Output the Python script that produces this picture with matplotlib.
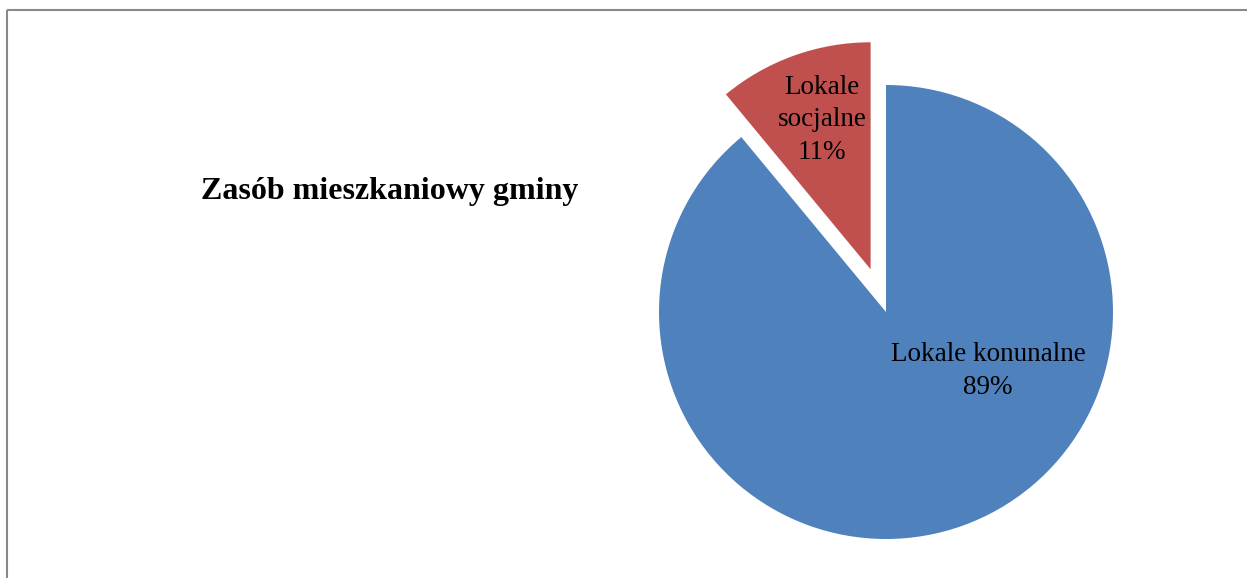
import matplotlib
matplotlib.use("Agg")
import matplotlib.pyplot as plt
from matplotlib.lines import Line2D

title = "Zasób mieszkaniowy gminy"
categories = ["Lokale konunalne", "Lokale socjalne"]
values = [89, 11]
colors = ["#4F81BD", "#C0504D"]
explode = [0.0, 0.2]  # fraction of radius

W, H = 1247, 578
fig = plt.figure(figsize=(W / 100, H / 100), dpi=100)
ax = fig.add_axes([0, 0, 1, 1])

cx, cy, r = 886, H - 312, 227
ax.pie(values, colors=colors, explode=[e * r for e in explode], startangle=90,
       counterclock=False, center=(cx, cy), radius=r,
       wedgeprops=dict(linewidth=0), frame=True)
ax.set_xlim(0, W)
ax.set_ylim(0, H)
ax.set_aspect("equal")
ax.axis("off")

font = ["Liberation Serif", "DejaVu Serif"]
ax.text(988, H - 371, f"{categories[0]}\n{values[0]}%", ha="center", va="center",
        fontsize=19.5, family=font, linespacing=1.4)
ax.text(822, H - 120, "Lokale\nsocjalne\n" + f"{values[1]}%", ha="center", va="center",
        fontsize=19.5, family=font, linespacing=1.4)
ax.text(390, H - 192, title, ha="center", va="center", fontsize=23,
        fontweight="bold", family=font)

gray = "#898989"
fig.add_artist(Line2D([7 / W, 7 / W], [0, 1 - 10 / H], color=gray, lw=1.5,
                      transform=fig.transFigure, solid_capstyle="butt"))
fig.add_artist(Line2D([7 / W, 1], [1 - 10 / H, 1 - 10 / H], color=gray, lw=1.5,
                      transform=fig.transFigure, solid_capstyle="butt"))

fig.savefig("out.png", dpi=100)
